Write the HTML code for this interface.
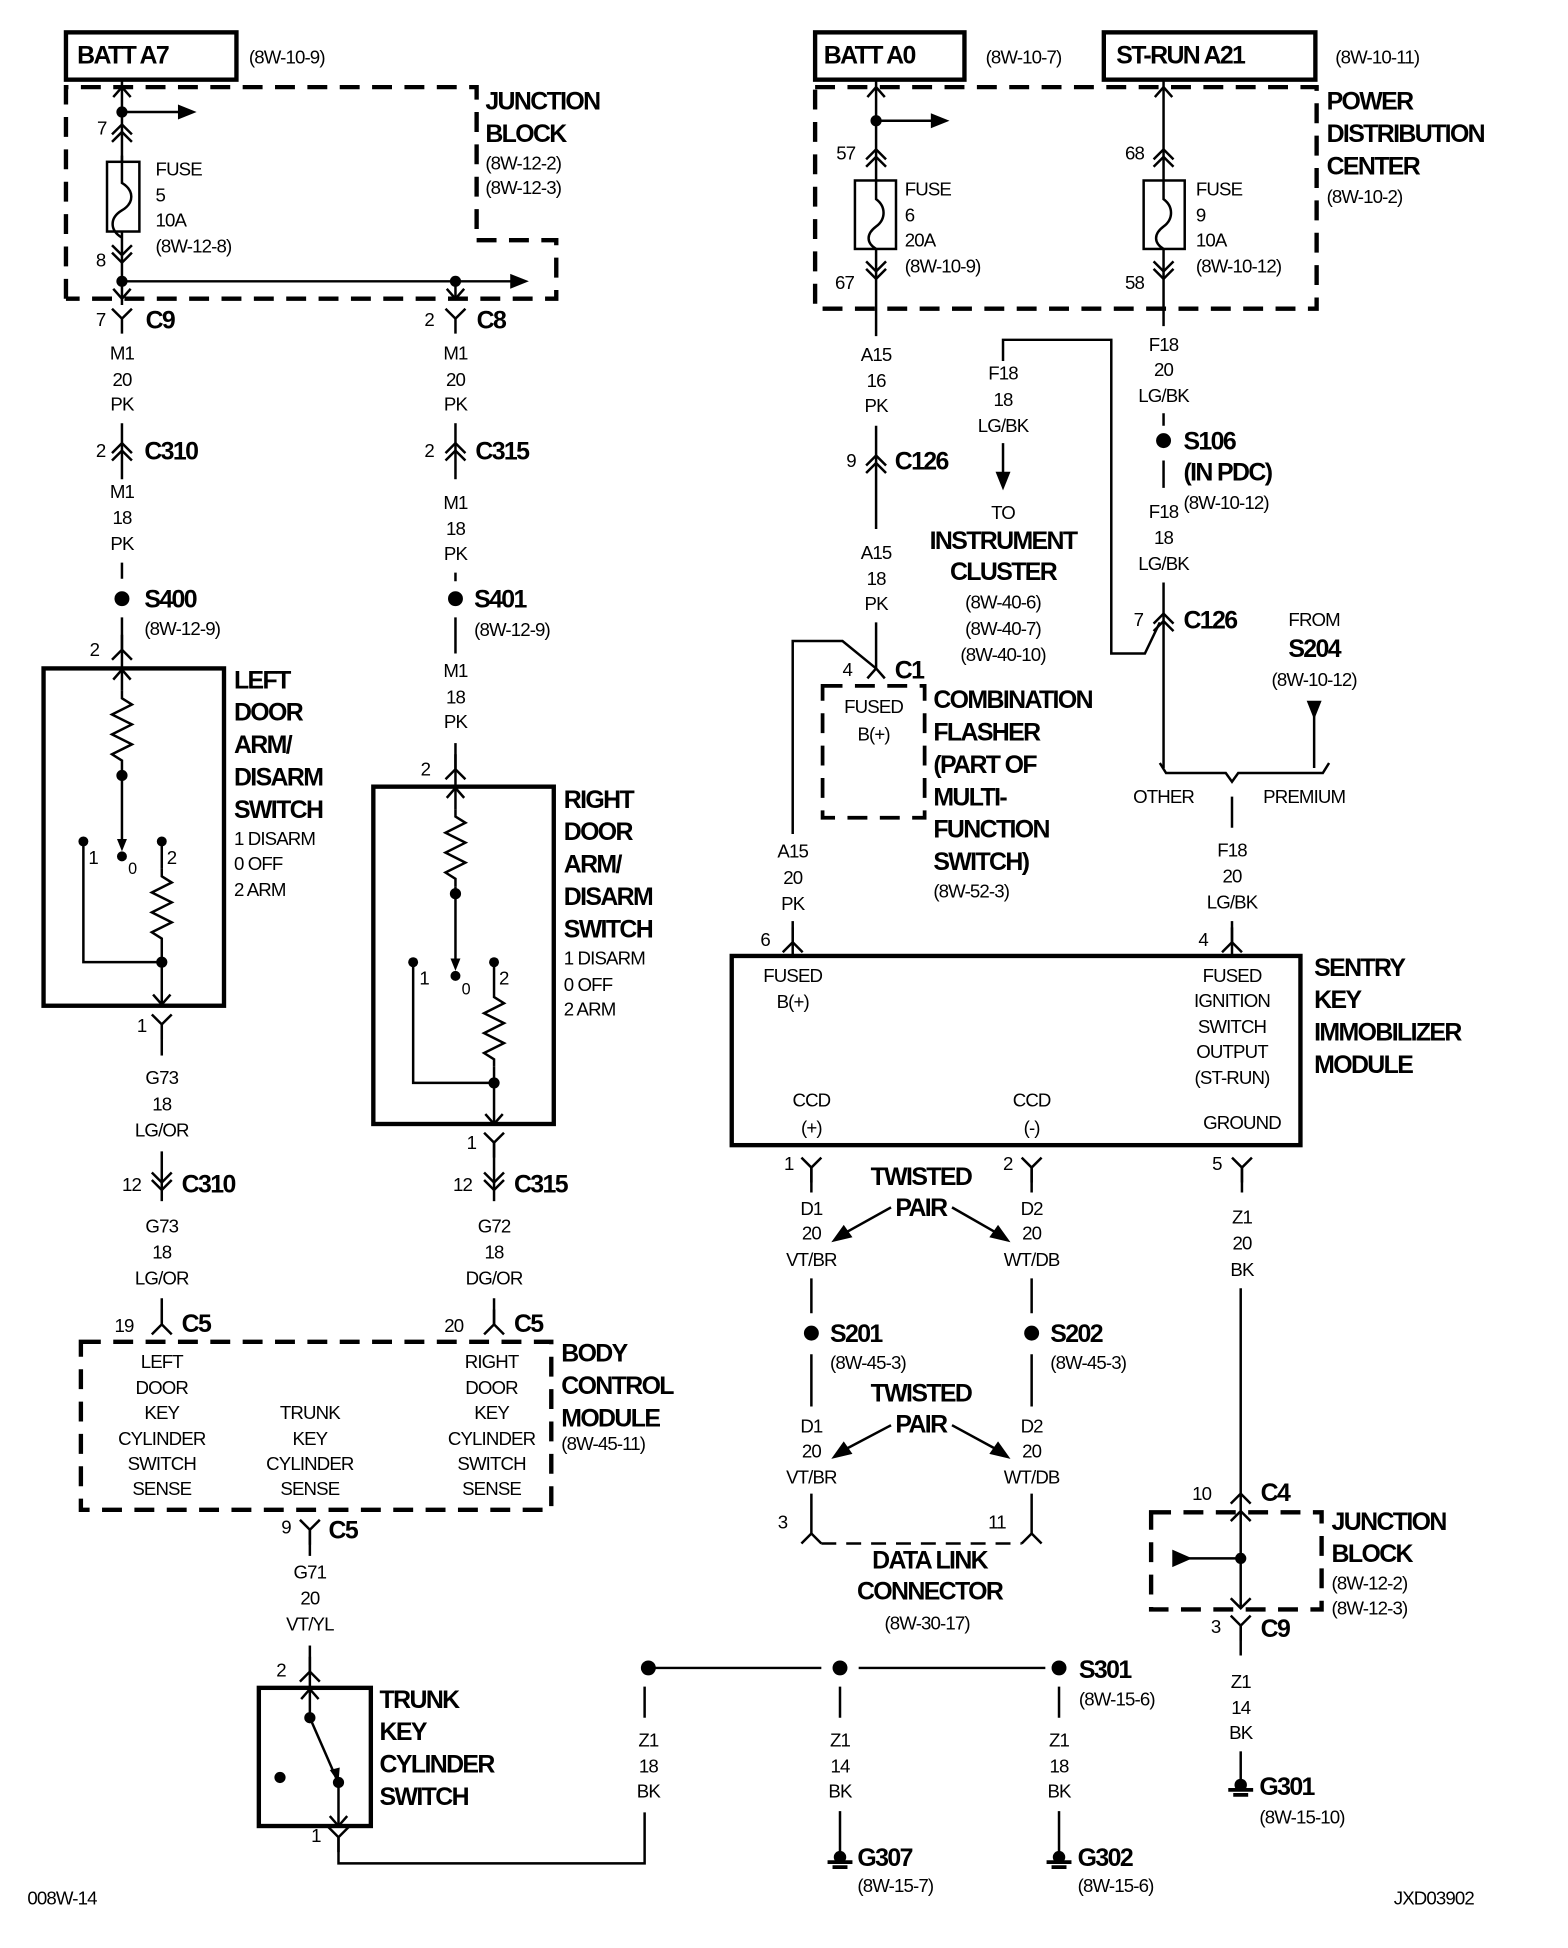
<!DOCTYPE html>
<html><head><meta charset="utf-8"><style>
html,body{margin:0;padding:0;background:#fff}
svg{display:block}
text{font-family:"Liberation Sans",sans-serif;fill:#000}
.b{font-size:20px;font-weight:bold;letter-spacing:-1.3px}
.s{font-size:15px;letter-spacing:-0.7px}
.m{text-anchor:middle}
.w{stroke:#000;stroke-width:2;fill:none}
.t{stroke:#000;stroke-width:3.5;fill:none}
.d{stroke:#000;stroke-width:3.5;fill:none;stroke-dasharray:16,10}
.c{stroke:#000;stroke-width:2;fill:none}
</style></head><body>
<svg width="1568" height="1948" viewBox="0 0 1260 1565" preserveAspectRatio="none" xmlns="http://www.w3.org/2000/svg">
<defs>
<path id="du" class="c" d="M-8,4 L0,-4 L8,4 M-8,10 L0,2 L8,10"/>
<path id="dd" class="c" d="M-8,-4 L0,4 L8,-4 M-8,-10 L0,-2 L8,-10"/>
<path id="yy" class="c" d="M-8,-8 L0,0 L8,-8 M0,0 L0,12"/>
<path id="ya" class="c" d="M-8,8 L0,0 L8,8 M0,0 L0,-12"/>
<path id="fuse" d="M0,0 L0,22 C10,28 10,38 0,44 C-10,50 -10,60 0,66" class="w"/>
<path id="res" class="w" d="M0,0 L0,6 L8,11 L-8,19 L8,27 L-8,35 L8,43 L-8,51 L0,56 L0,62"/>
<path id="gnd" d="M-10,0 L10,0 M-6,4 L6,4" stroke="#000" stroke-width="3" fill="none"/>
</defs>

<!-- ================= LEFT TOP ================= -->
<rect x="53" y="26" width="137" height="38" class="t"/>
<text x="62" y="51" class="b">BATT A7</text>
<text x="200" y="51" class="s">(8W-10-9)</text>
<path class="d" d="M53,240 L53,70 L383,70 L383,190 M383,193 L447,193 L447,240 L53,240"/>
<text x="390" y="88" class="b">JUNCTION</text>
<text x="390" y="114" class="b">BLOCK</text>
<text x="390" y="136" class="s">(8W-12-2)</text>
<text x="390" y="156" class="s">(8W-12-3)</text>
<path class="w" d="M98,64 L98,130 M98,186 L98,245"/>
<path class="c" d="M91,78 L98,70 L105,78"/>
<circle cx="98" cy="90" r="4.5"/>
<path class="w" d="M98,90 L145,90"/><path d="M143,84 L158,90 L143,96Z"/>
<use href="#du" x="98" y="104"/>
<text x="78" y="108" class="s">7</text>
<rect x="86" y="130" width="26" height="56" class="w"/>
<use href="#fuse" x="98" y="125"/>
<text x="125" y="141" class="s">FUSE</text>
<text x="125" y="162" class="s">5</text>
<text x="125" y="182" class="s">10A</text>
<text x="125" y="203" class="s">(8W-12-8)</text>
<use href="#dd" x="98" y="207"/>
<text x="77" y="214" class="s">8</text>
<circle cx="98" cy="226" r="4.5"/>
<path class="w" d="M98,226 L412,226"/><path d="M410,220 L425,226 L410,232Z"/>
<circle cx="366" cy="226" r="4.5"/>
<path class="w" d="M366,226 L366,240"/>
<path class="c" d="M91,232 L98,240 L105,232"/>
<path class="c" d="M359,232 L366,240 L373,232"/>

<!-- left column x=98 -->
<use href="#yy" x="98" y="256"/>
<text x="77" y="262" class="s">7</text>
<text x="117" y="264" class="b">C9</text>
<text x="98" y="289" class="s m">M1</text>
<text x="98" y="310" class="s m">20</text>
<text x="98" y="330" class="s m">PK</text>
<path class="w" d="M98,340 L98,380 M98,378 L98,385"/>
<use href="#du" x="98" y="360"/>
<text x="77" y="367" class="s">2</text>
<text x="116" y="369" class="b">C310</text>
<text x="98" y="400" class="s m">M1</text>
<text x="98" y="421" class="s m">18</text>
<text x="98" y="442" class="s m">PK</text>
<path class="w" d="M98,452 L98,465 M98,496 L98,537"/>
<circle cx="98" cy="481" r="6"/>
<text x="116" y="488" class="b">S400</text>
<text x="116" y="510" class="s">(8W-12-9)</text>
<use href="#ya" x="98" y="522"/>
<text x="72" y="527" class="s">2</text>
<rect x="35" y="537" width="145" height="271" class="t"/>
<path class="c" d="M91,546 L98,538 L105,546"/>
<use href="#res" x="98" y="555"/>
<path class="w" d="M98,538 L98,555 M98,617 L98,680"/>
<circle cx="98" cy="623" r="4.5"/>
<path d="M94,674 L98,684 L102,674Z"/>
<circle cx="98" cy="688" r="4"/>
<text x="103" y="702" class="s" style="font-size:13px">0</text>
<circle cx="67" cy="676" r="4"/>
<text x="71" y="694" class="s">1</text>
<circle cx="130" cy="676" r="4"/>
<text x="134" y="694" class="s">2</text>
<path class="w" d="M67,676 L67,773 L130,773 M130,676 L130,698 M130,760 L130,808"/>
<use href="#res" x="130" y="698"/>
<circle cx="130" cy="773" r="4.5"/>
<path class="c" d="M123,799 L130,807 L137,799"/>
<text x="188" y="553" class="b">LEFT</text>
<text x="188" y="579" class="b">DOOR</text>
<text x="188" y="605" class="b">ARM/</text>
<text x="188" y="631" class="b">DISARM</text>
<text x="188" y="657" class="b">SWITCH</text>
<text x="188" y="679" class="s">1 DISARM</text>
<text x="188" y="699" class="s">0 OFF</text>
<text x="188" y="720" class="s">2 ARM</text>
<use href="#yy" x="130" y="823"/>
<text x="110" y="829" class="s">1</text>
<path class="w" d="M130,823 L130,848"/>
<text x="130" y="871" class="s m">G73</text>
<text x="130" y="892" class="s m">18</text>
<text x="130" y="913" class="s m">LG/OR</text>
<path class="w" d="M130,925 L130,965"/>
<use href="#dd" x="130" y="952"/>
<text x="98" y="957" class="s">12</text>
<text x="146" y="958" class="b">C310</text>
<text x="130" y="990" class="s m">G73</text>
<text x="130" y="1011" class="s m">18</text>
<text x="130" y="1032" class="s m">LG/OR</text>
<path class="w" d="M130,1043 L130,1064"/>
<use href="#ya" x="130" y="1064"/>
<text x="92" y="1070" class="s">19</text>
<text x="146" y="1070" class="b">C5</text>

<!-- right door column x=366 -->
<use href="#yy" x="366" y="256"/>
<text x="341" y="262" class="s">2</text>
<text x="383" y="264" class="b">C8</text>
<text x="366" y="289" class="s m">M1</text>
<text x="366" y="310" class="s m">20</text>
<text x="366" y="330" class="s m">PK</text>
<path class="w" d="M366,340 L366,385"/>
<use href="#du" x="366" y="360"/>
<text x="341" y="367" class="s">2</text>
<text x="382" y="369" class="b">C315</text>
<text x="366" y="409" class="s m">M1</text>
<text x="366" y="430" class="s m">18</text>
<text x="366" y="450" class="s m">PK</text>
<path class="w" d="M366,460 L366,467 M366,496 L366,525"/>
<circle cx="366" cy="481" r="6"/>
<text x="381" y="488" class="b">S401</text>
<text x="381" y="511" class="s">(8W-12-9)</text>
<text x="366" y="544" class="s m">M1</text>
<text x="366" y="565" class="s m">18</text>
<text x="366" y="585" class="s m">PK</text>
<path class="w" d="M366,597 L366,632"/>
<use href="#ya" x="366" y="618"/>
<text x="338" y="623" class="s">2</text>
<rect x="300" y="632" width="145" height="271" class="t"/>
<path class="c" d="M359,641 L366,633 L373,641"/>
<use href="#res" x="366" y="650"/>
<path class="w" d="M366,633 L366,650 M366,712 L366,776"/>
<circle cx="366" cy="718" r="4.5"/>
<path d="M362,770 L366,780 L370,770Z"/>
<circle cx="366" cy="784" r="4"/>
<text x="371" y="799" class="s" style="font-size:13px">0</text>
<circle cx="332" cy="773" r="4"/>
<text x="337" y="791" class="s">1</text>
<circle cx="397" cy="773" r="4"/>
<text x="401" y="791" class="s">2</text>
<path class="w" d="M332,773 L332,870 L397,870 M397,773 L397,795 M397,857 L397,903"/>
<use href="#res" x="397" y="795"/>
<circle cx="397" cy="870" r="4.5"/>
<path class="c" d="M390,895 L397,903 L404,895"/>
<text x="453" y="649" class="b">RIGHT</text>
<text x="453" y="675" class="b">DOOR</text>
<text x="453" y="701" class="b">ARM/</text>
<text x="453" y="727" class="b">DISARM</text>
<text x="453" y="753" class="b">SWITCH</text>
<text x="453" y="775" class="s">1 DISARM</text>
<text x="453" y="796" class="s">0 OFF</text>
<text x="453" y="816" class="s">2 ARM</text>
<use href="#yy" x="397" y="918"/>
<text x="375" y="923" class="s">1</text>
<path class="w" d="M397,918 L397,965"/>
<use href="#dd" x="397" y="952"/>
<text x="364" y="957" class="s">12</text>
<text x="413" y="958" class="b">C315</text>
<text x="397" y="990" class="s m">G72</text>
<text x="397" y="1011" class="s m">18</text>
<text x="397" y="1032" class="s m">DG/OR</text>
<path class="w" d="M397,1043 L397,1064"/>
<use href="#ya" x="397" y="1064"/>
<text x="357" y="1070" class="s">20</text>
<text x="413" y="1070" class="b">C5</text>

<!-- BCM -->
<path class="d" d="M65,1078 L443,1078 L443,1213 L65,1213 Z"/>
<text x="130" y="1099" class="s m">LEFT</text>
<text x="130" y="1120" class="s m">DOOR</text>
<text x="130" y="1140" class="s m">KEY</text>
<text x="130" y="1161" class="s m">CYLINDER</text>
<text x="130" y="1181" class="s m">SWITCH</text>
<text x="130" y="1201" class="s m">SENSE</text>
<text x="249" y="1140" class="s m">TRUNK</text>
<text x="249" y="1161" class="s m">KEY</text>
<text x="249" y="1181" class="s m">CYLINDER</text>
<text x="249" y="1201" class="s m">SENSE</text>
<text x="395" y="1099" class="s m">RIGHT</text>
<text x="395" y="1120" class="s m">DOOR</text>
<text x="395" y="1140" class="s m">KEY</text>
<text x="395" y="1161" class="s m">CYLINDER</text>
<text x="395" y="1181" class="s m">SWITCH</text>
<text x="395" y="1201" class="s m">SENSE</text>
<text x="451" y="1094" class="b">BODY</text>
<text x="451" y="1120" class="b">CONTROL</text>
<text x="451" y="1146" class="b">MODULE</text>
<text x="451" y="1165" class="s">(8W-45-11)</text>
<use href="#yy" x="249" y="1229"/>
<text x="226" y="1232" class="s">9</text>
<text x="264" y="1236" class="b">C5</text>
<path class="w" d="M249,1229 L249,1250"/>
<text x="249" y="1268" class="s m">G71</text>
<text x="249" y="1289" class="s m">20</text>
<text x="249" y="1310" class="s m">VT/YL</text>
<path class="w" d="M249,1322 L249,1356"/>
<use href="#ya" x="249" y="1343"/>
<text x="222" y="1347" class="s">2</text>
<rect x="208" y="1356" width="90" height="111" class="t"/>
<path class="c" d="M242,1365 L249,1357 L256,1365 M249,1357 L249,1380"/>
<circle cx="249" cy="1380" r="4.5"/>
<path class="w" d="M249,1380 L270,1428"/><path d="M265,1422 L272,1432 L273,1420Z"/>
<circle cx="272" cy="1432" r="4.5"/>
<circle cx="225" cy="1428" r="4.5"/>
<path class="w" d="M272,1432 L272,1467"/>
<path class="c" d="M265,1459 L272,1467 L279,1459"/>
<text x="305" y="1372" class="b">TRUNK</text>
<text x="305" y="1398" class="b">KEY</text>
<text x="305" y="1424" class="b">CYLINDER</text>
<text x="305" y="1450" class="b">SWITCH</text>
<use href="#yy" x="272" y="1476"/>
<text x="250" y="1480" class="s">1</text>
<path class="w" d="M272,1476 L272,1497 L518,1497 L518,1456"/>

<!-- ground bus -->
<path class="w" d="M521,1340 L660,1340 M690,1340 L840,1340"/>
<circle cx="521" cy="1340" r="6"/>
<circle cx="675" cy="1340" r="6"/>
<circle cx="851" cy="1340" r="6"/>
<text x="867" y="1348" class="b">S301</text>
<text x="867" y="1370" class="s">(8W-15-6)</text>
<path class="w" d="M518,1355 L518,1380"/>
<text x="521" y="1403" class="s m">Z1</text>
<text x="521" y="1424" class="s m">18</text>
<text x="521" y="1444" class="s m">BK</text>
<path class="w" d="M675,1355 L675,1380 M675,1455 L675,1488"/>
<text x="675" y="1403" class="s m">Z1</text>
<text x="675" y="1424" class="s m">14</text>
<text x="675" y="1444" class="s m">BK</text>
<circle cx="675" cy="1492" r="5"/><use href="#gnd" x="675" y="1496"/>
<text x="689" y="1499" class="b">G307</text>
<text x="689" y="1520" class="s">(8W-15-7)</text>
<path class="w" d="M851,1355 L851,1380 M851,1455 L851,1488"/>
<text x="851" y="1403" class="s m">Z1</text>
<text x="851" y="1424" class="s m">18</text>
<text x="851" y="1444" class="s m">BK</text>
<circle cx="851" cy="1492" r="5"/><use href="#gnd" x="851" y="1496"/>
<text x="866" y="1499" class="b">G302</text>
<text x="866" y="1520" class="s">(8W-15-6)</text>
<text x="22" y="1530" class="s">008W-14</text>
<text x="1120" y="1530" class="s">JXD03902</text>

<!-- ================= RIGHT TOP ================= -->
<rect x="655" y="26" width="120" height="38" class="t"/>
<text x="662" y="51" class="b">BATT A0</text>
<text x="792" y="51" class="s">(8W-10-7)</text>
<rect x="887" y="26" width="170" height="38" class="t"/>
<text x="897" y="51" class="b">ST-RUN A21</text>
<text x="1073" y="51" class="s">(8W-10-11)</text>
<path class="d" d="M655,70 L1058,70 L1058,248 L655,248 Z"/>
<text x="1066" y="88" class="b">POWER</text>
<text x="1066" y="114" class="b">DISTRIBUTION</text>
<text x="1066" y="140" class="b">CENTER</text>
<text x="1066" y="163" class="s">(8W-10-2)</text>
<!-- fuse 6 -->
<path class="w" d="M704,64 L704,145 M704,200 L704,270"/>
<path class="c" d="M697,78 L704,70 L711,78"/>
<circle cx="704" cy="97" r="4.5"/>
<path class="w" d="M704,97 L750,97"/><path d="M748,91 L763,97 L748,103Z"/>
<use href="#du" x="704" y="124"/>
<text x="672" y="128" class="s">57</text>
<rect x="687" y="145" width="33" height="55" class="w"/>
<path class="w" d="M704,145 L704,160 C712,166 712,176 704,182 C696,188 696,195 704,200"/>
<text x="727" y="157" class="s">FUSE</text>
<text x="727" y="178" class="s">6</text>
<text x="727" y="198" class="s">20A</text>
<text x="727" y="219" class="s">(8W-10-9)</text>
<use href="#dd" x="704" y="220"/>
<text x="671" y="232" class="s">67</text>
<!-- fuse 9 -->
<path class="w" d="M935,64 L935,145 M935,200 L935,262"/>
<path class="c" d="M928,78 L935,70 L942,78"/>
<use href="#du" x="935" y="124"/>
<text x="904" y="128" class="s">68</text>
<rect x="919" y="145" width="33" height="55" class="w"/>
<path class="w" d="M935,145 L935,160 C943,166 943,176 935,182 C927,188 927,195 935,200"/>
<text x="961" y="157" class="s">FUSE</text>
<text x="961" y="178" class="s">9</text>
<text x="961" y="198" class="s">10A</text>
<text x="961" y="219" class="s">(8W-10-12)</text>
<use href="#dd" x="935" y="220"/>
<text x="904" y="232" class="s">58</text>

<!-- A15 column x=704 -->
<text x="704" y="290" class="s m">A15</text>
<text x="704" y="311" class="s m">16</text>
<text x="704" y="331" class="s m">PK</text>
<path class="w" d="M704,342 L704,425"/>
<use href="#du" x="704" y="370"/>
<text x="680" y="375" class="s">9</text>
<text x="719" y="377" class="b">C126</text>
<text x="704" y="449" class="s m">A15</text>
<text x="704" y="470" class="s m">18</text>
<text x="704" y="490" class="s m">PK</text>
<path class="w" d="M704,500 L704,537"/>
<path class="c" d="M697,545 L704,537 L711,545"/>
<path class="w" d="M704,537 L677,515 L637,515 L637,670"/>
<text x="677" y="543" class="s">4</text>
<text x="719" y="545" class="b">C1</text>
<path class="d" d="M661,551 L743,551 L743,657 L661,657 Z" style="stroke-width:3"/>
<text x="702" y="573" class="s m">FUSED</text>
<text x="702" y="595" class="s m">B(+)</text>
<text x="750" y="569" class="b">COMBINATION</text>
<text x="750" y="595" class="b">FLASHER</text>
<text x="750" y="621" class="b">(PART OF</text>
<text x="750" y="647" class="b">MULTI-</text>
<text x="750" y="673" class="b">FUNCTION</text>
<text x="750" y="699" class="b">SWITCH)</text>
<text x="750" y="721" class="s">(8W-52-3)</text>
<text x="637" y="689" class="s m">A15</text>
<text x="637" y="710" class="s m">20</text>
<text x="637" y="731" class="s m">PK</text>
<path class="w" d="M637,740 L637,768"/>
<use href="#ya" x="637" y="757"/>
<text x="611" y="760" class="s">6</text>

<!-- F18 to instrument cluster -->
<path class="w" d="M806,290 L806,273 L893,273 L893,525 L920,525 L932,500"/>
<text x="806" y="305" class="s m">F18</text>
<text x="806" y="326" class="s m">18</text>
<text x="806" y="347" class="s m">LG/BK</text>
<path class="w" d="M806,356 L806,380"/><path d="M800,379 L806,394 L812,379Z"/>
<text x="806" y="417" class="s m">TO</text>
<text x="806" y="441" class="b m">INSTRUMENT</text>
<text x="806" y="466" class="b m">CLUSTER</text>
<text x="806" y="489" class="s m">(8W-40-6)</text>
<text x="806" y="510" class="s m">(8W-40-7)</text>
<text x="806" y="531" class="s m">(8W-40-10)</text>

<!-- F18 column x=935 -->
<text x="935" y="282" class="s m">F18</text>
<text x="935" y="302" class="s m">20</text>
<text x="935" y="323" class="s m">LG/BK</text>
<path class="w" d="M935,332 L935,342 M935,370 L935,392"/>
<circle cx="935" cy="354" r="6"/>
<text x="951" y="361" class="b">S106</text>
<text x="951" y="386" class="b">(IN PDC)</text>
<text x="951" y="409" class="s">(8W-10-12)</text>
<text x="935" y="416" class="s m">F18</text>
<text x="935" y="437" class="s m">18</text>
<text x="935" y="458" class="s m">LG/BK</text>
<path class="w" d="M935,468 L935,617"/>
<use href="#du" x="935" y="497"/>
<text x="911" y="503" class="s">7</text>
<text x="951" y="505" class="b">C126</text>
<text x="1056" y="503" class="s m">FROM</text>
<text x="1056" y="528" class="b m">S204</text>
<text x="1056" y="551" class="s m">(8W-10-12)</text>
<path d="M1050,563 L1062,563 L1056,578Z"/>
<path class="w" d="M1056,575 L1056,617"/>
<path class="w" d="M932,613 L937,621 L985,621 L990,628 L995,621 L1063,621 L1068,613"/>
<text x="935" y="645" class="s m">OTHER</text>
<text x="1048" y="645" class="s m">PREMIUM</text>
<path class="w" d="M990,640 L990,665"/>
<text x="990" y="688" class="s m">F18</text>
<text x="990" y="709" class="s m">20</text>
<text x="990" y="730" class="s m">LG/BK</text>
<path class="w" d="M990,740 L990,768"/>
<use href="#ya" x="990" y="757"/>
<text x="963" y="760" class="s">4</text>

<!-- SKIM -->
<rect x="588" y="768" width="457" height="152" class="t"/>
<text x="637" y="789" class="s m">FUSED</text>
<text x="637" y="810" class="s m">B(+)</text>
<text x="990" y="789" class="s m">FUSED</text>
<text x="990" y="809" class="s m">IGNITION</text>
<text x="990" y="830" class="s m">SWITCH</text>
<text x="990" y="850" class="s m">OUTPUT</text>
<text x="990" y="871" class="s m">(ST-RUN)</text>
<text x="652" y="889" class="s m">CCD</text>
<text x="652" y="911" class="s m">(+)</text>
<text x="829" y="889" class="s m">CCD</text>
<text x="829" y="911" class="s m">(-)</text>
<text x="998" y="907" class="s m">GROUND</text>
<text x="1056" y="784" class="b">SENTRY</text>
<text x="1056" y="810" class="b">KEY</text>
<text x="1056" y="836" class="b">IMMOBILIZER</text>
<text x="1056" y="862" class="b">MODULE</text>

<!-- CCD -->
<use href="#yy" x="652" y="938"/>
<text x="630" y="940" class="s">1</text>
<use href="#yy" x="829" y="938"/>
<text x="806" y="940" class="s">2</text>
<use href="#yy" x="998" y="938"/>
<text x="974" y="940" class="s">5</text>
<path class="w" d="M652,938 L652,958 M829,938 L829,958 M998,938 L998,958"/>
<text x="740" y="952" class="b m">TWISTED</text>
<text x="740" y="977" class="b m">PAIR</text>
<path class="w" d="M716,970 L680,990"/><path d="M668,998 L678,984 L685,994Z"/>
<path class="w" d="M765,970 L800,990"/><path d="M812,998 L795,994 L802,984Z"/>
<text x="652" y="976" class="s m">D1</text>
<text x="652" y="996" class="s m">20</text>
<text x="652" y="1017" class="s m">VT/BR</text>
<text x="829" y="976" class="s m">D2</text>
<text x="829" y="996" class="s m">20</text>
<text x="829" y="1017" class="s m">WT/DB</text>
<path class="w" d="M652,1027 L652,1055 M652,1088 L652,1130 M829,1027 L829,1055 M829,1088 L829,1130"/>
<circle cx="652" cy="1071" r="6"/>
<circle cx="829" cy="1071" r="6"/>
<text x="667" y="1078" class="b">S201</text>
<text x="667" y="1100" class="s">(8W-45-3)</text>
<text x="844" y="1078" class="b">S202</text>
<text x="844" y="1100" class="s">(8W-45-3)</text>
<text x="740" y="1126" class="b m">TWISTED</text>
<text x="740" y="1151" class="b m">PAIR</text>
<path class="w" d="M716,1145 L680,1164"/><path d="M668,1172 L678,1158 L685,1168Z"/>
<path class="w" d="M765,1145 L800,1164"/><path d="M812,1172 L795,1168 L802,1158Z"/>
<text x="652" y="1151" class="s m">D1</text>
<text x="652" y="1171" class="s m">20</text>
<text x="652" y="1192" class="s m">VT/BR</text>
<text x="829" y="1151" class="s m">D2</text>
<text x="829" y="1171" class="s m">20</text>
<text x="829" y="1192" class="s m">WT/DB</text>
<path class="w" d="M652,1200 L652,1232 M829,1200 L829,1232"/>
<path class="c" d="M644,1240 L652,1232 L660,1240 M821,1240 L829,1232 L837,1240"/>
<path class="w" d="M660,1240 L821,1240" style="stroke-dasharray:12,8"/>
<text x="625" y="1228" class="s">3</text>
<text x="794" y="1228" class="s">11</text>
<text x="747" y="1260" class="b m">DATA LINK</text>
<text x="747" y="1285" class="b m">CONNECTOR</text>
<text x="745" y="1309" class="s m">(8W-30-17)</text>

<!-- Z1 ground column x=997 -->
<text x="998" y="983" class="s m">Z1</text>
<text x="998" y="1004" class="s m">20</text>
<text x="998" y="1025" class="s m">BK</text>
<path class="w" d="M997,1035 L997,1292"/>
<path class="c" d="M989,1208 L997,1200 L1005,1208 M989,1222 L997,1214 L1005,1222"/>
<text x="958" y="1205" class="s">10</text>
<text x="1013" y="1206" class="b">C4</text>
<path class="d" d="M925,1215 L1062,1215 L1062,1293 L925,1293 Z"/>
<circle cx="997" cy="1252" r="4.5"/>
<path class="w" d="M955,1252 L997,1252"/><path d="M942,1245 L958,1252 L942,1259Z"/>
<path class="c" d="M989,1284 L997,1292 L1005,1284"/>
<use href="#yy" x="997" y="1306"/>
<text x="973" y="1312" class="s">3</text>
<text x="1013" y="1315" class="b">C9</text>
<path class="w" d="M997,1306 L997,1330"/>
<text x="997" y="1356" class="s m">Z1</text>
<text x="997" y="1377" class="s m">14</text>
<text x="997" y="1397" class="s m">BK</text>
<path class="w" d="M997,1407 L997,1430"/>
<circle cx="997" cy="1434" r="5"/><use href="#gnd" x="997" y="1438"/>
<text x="1012" y="1442" class="b">G301</text>
<text x="1012" y="1465" class="s">(8W-15-10)</text>
<text x="1070" y="1229" class="b">JUNCTION</text>
<text x="1070" y="1255" class="b">BLOCK</text>
<text x="1070" y="1277" class="s">(8W-12-2)</text>
<text x="1070" y="1297" class="s">(8W-12-3)</text>
</svg>
</body></html>
